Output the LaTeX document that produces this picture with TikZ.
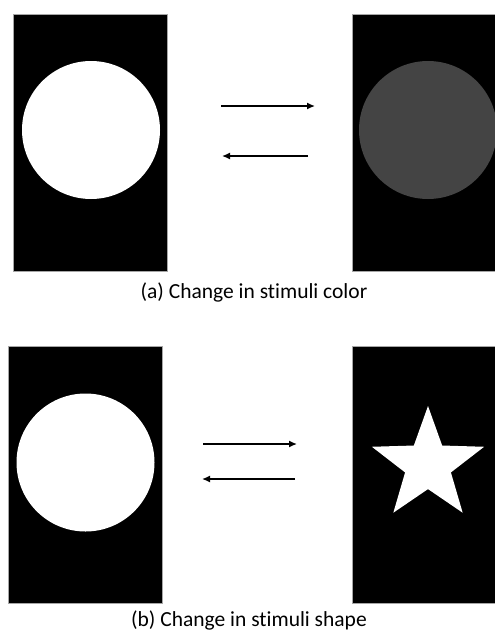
\documentclass[tikz,border=0pt]{standalone}
\usepackage{fontspec}
\setmainfont{Carlito}[Ligatures=NoCommon]
\usetikzlibrary{arrows.meta,shapes.geometric}
\definecolor{dimgray}{RGB}{68,68,68}
\tikzset{
  panel/.style={rectangle, fill=black, draw=gray!70, line width=0.6pt, inner sep=0pt, minimum width=154pt, minimum height=257pt},
  disc/.style={circle, fill=white, inner sep=0pt, minimum size=138pt},
  conn/.style={line width=1.4pt, -{Latex[length=8pt,width=7pt]}},
  caption/.style={font=\fontsize{21.5}{25}\selectfont, inner sep=0pt}
}
\begin{document}
\begin{tikzpicture}[x=1pt,y=-1pt]
\useasboundingbox (0,0) rectangle (495,630);
% (a)
\node[panel] (a1) at (90,142.5) {};
\node[panel] (a2) at (429,142.5) {};
\node[disc] (c1) at (91,130) {};
\node[disc, fill=dimgray] (c2) at (428,130) {};
\coordinate (a1s) at (221,106);
\coordinate (a1e) at (315,106);
\coordinate (a2s) at (308,156);
\coordinate (a2e) at (222,156);
\draw[conn] (a1s) -- (a1e);
\draw[conn] (a2s) -- (a2e);
\node[caption] (capa) at (254,292) {(a) Change in stimuli color};
% (b)
\node[panel] (b1) at (85,475) {};
\node[panel] (b2) at (429,475) {};
\node[disc] (c3) at (85.5,462.5) {};
\node[star, star points=5, star point ratio=2.45, fill=white, inner sep=0pt, minimum size=118pt] (st) at (428,465) {};
\coordinate (b1s) at (203,444);
\coordinate (b1e) at (297,444);
\coordinate (b2s) at (295,479);
\coordinate (b2e) at (202,479);
\draw[conn] (b1s) -- (b1e);
\draw[conn] (b2s) -- (b2e);
\node[caption] (capb) at (249,620) {(b) Change in stimuli shape};
\end{tikzpicture}
\end{document}
